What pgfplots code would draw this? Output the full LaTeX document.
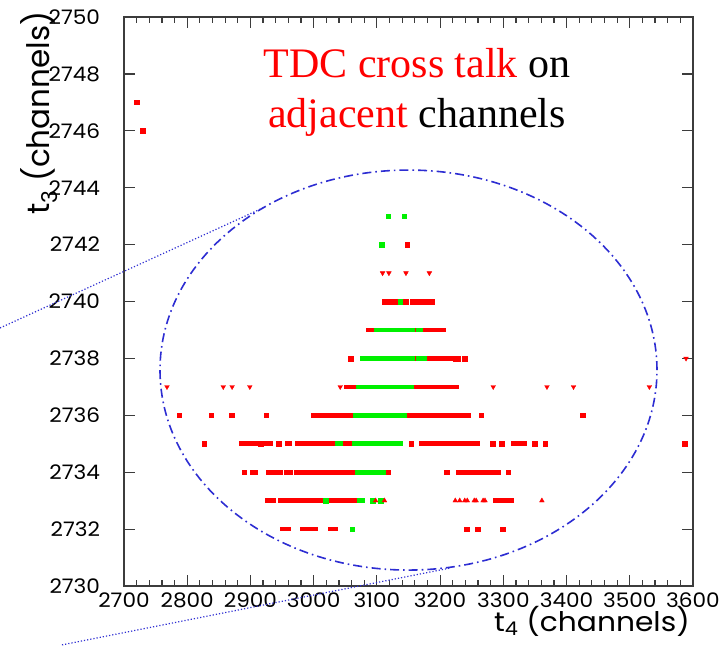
\documentclass[border=0pt]{standalone}
\usepackage{fontspec}
\setmainfont{Liberation Serif}
\newfontfamily\poppins{Poppins}
\usepackage{pgfplots}
\pgfplotsset{compat=1.18}

\definecolor{axisgray}{RGB}{60,60,60}
\definecolor{ellblue}{RGB}{45,45,210}
\definecolor{hitred}{RGB}{255,0,0}
\definecolor{hitgreen}{RGB}{0,240,0}

\begin{document}
\begin{tikzpicture}
\begin{axis}[
  name=ax,
  scale only axis, width=569pt, height=569pt,
  xmin=2700, xmax=3600, ymin=2730, ymax=2750,
  xtick={2700,2800,...,3600}, ytick={2730,2732,...,2750},
  minor x tick num=4, minor y tick num=3,
  tick align=inside,
  major tick length=11pt, minor tick length=6pt,
  axis line style={axisgray, line width=1.5pt},
  tick style={axisgray, line width=1.2pt},
  tick label style={font=\poppins\fontsize{20}{20}\selectfont, inner sep=0pt, xscale=1.08},
  /pgf/number format/assume math mode=true,
  /pgf/number format/set thousands separator={},
  scaled ticks=false,
  xticklabel style={anchor=north, yshift=-7pt},
  yticklabel style={anchor=east, xshift=-22pt},
  clip=false,
  unbounded coords=jump,
]
% continuous runs of hits (red: t3 channel)
\addplot[hitred, line width=4.6pt, line cap=rect, no marks] coordinates {
 (3086,2739) (3092,2739) (nan,nan)
 (3156,2739) (3165,2739) (nan,nan)
 (3170,2739) (3205,2739) (nan,nan)
 (3157,2738) (3165,2738) (nan,nan)
 (3176,2738) (3220,2738) (nan,nan)
 (3052,2737) (3061,2737) (nan,nan)
 (3064,2737) (3070,2737) (nan,nan)
 (3155,2737) (3226,2737) (nan,nan)
 (3000,2736) (3008,2736) (nan,nan)
 (3012,2736) (3024,2736) (nan,nan)
 (3027,2736) (3066,2736) (nan,nan)
 (3144,2736) (3245,2736) (nan,nan)
 (2885,2735) (2891,2735) (nan,nan)
 (2894,2735) (2900,2735) (nan,nan)
 (2903,2735) (2911,2735) (nan,nan)
 (2924,2735) (2932,2735) (nan,nan)
 (2958,2735) (2962,2735) (nan,nan)
 (2974,2735) (3037,2735) (nan,nan)
 (3042,2735) (3064,2735) (nan,nan)
 (3171,2735) (3176,2735) (nan,nan)
 (3181,2735) (3192,2735) (nan,nan)
 (3199,2735) (3260,2735) (nan,nan)
 (3315,2735) (3334,2735) (nan,nan)
 (2903,2734) (2908,2734) (nan,nan)
 (2929,2734) (2937,2734) (nan,nan)
 (2942,2734) (2948,2734) (nan,nan)
 (2956,2734) (2963,2734) (nan,nan)
 (2972,2734) (3069,2734) (nan,nan)
 (3229,2734) (3282,2734) (nan,nan)
 (2927,2733) (2937,2733) (nan,nan)
 (2947,2733) (3016,2733) (nan,nan)
 (3023,2733) (3069,2733) (nan,nan)
 (3287,2733) (3295,2733) (nan,nan)
 (3300,2733) (3313,2733) (nan,nan)
 (2950,2732) (2961,2732) (nan,nan)
 (2982,2732) (2993,2732) (nan,nan)
 (2996,2732) (3003,2732) (nan,nan)
 (3027,2732) (3035,2732)
};
% continuous runs of hits (green: t4 channel)
\addplot[hitgreen, line width=4.6pt, line cap=rect, no marks] coordinates {
 (3099,2739) (3156,2739) (nan,nan)
 (3165,2739) (3170,2739) (nan,nan)
 (3077,2738) (3157,2738) (nan,nan)
 (3165,2738) (3176,2738) (nan,nan)
 (3070,2737) (3155,2737) (nan,nan)
 (3066,2736) (3144,2736) (nan,nan)
 (3037,2735) (3042,2735) (nan,nan)
 (3064,2735) (3138,2735) (nan,nan)
 (3069,2734) (3116,2734) (nan,nan)
 (3072,2733) (3077,2733)
};
% isolated hits
\addplot[only marks, mark=square*, hitgreen, mark size=2.3pt] coordinates {
 (3118,2743) (3143,2743) (3108,2742)
 (3125,2740) (3134,2740) (3138,2740) (3142,2740)
 (3019,2733) (3093,2733) (3106,2733) (3061,2732)
};
\addplot[only marks, mark=square*, hitred, mark size=2.3pt] coordinates {
 (2720,2747) (2730,2746) (3148,2742)
 (3112,2740) (3122,2740) (3129,2740) (3146,2740) (3157,2740) (3160,2740)
 (3165,2740) (3168,2740) (3173,2740) (3176,2740) (3181,2740) (3187,2740)
 (3059,2738) (3224,2738) (3228,2738) (3239,2738)
 (2787,2736) (2838,2736) (2870,2736) (2925,2736) (3265,2736) (3426,2736)
 (2827,2735) (2916,2735) (2945,2735) (3154,2735) (3283,2735) (3297,2735)
 (3350,2735) (3366,2735) (3587,2735)
 (2890,2734) (3118,2734) (3210,2734) (3287,2734) (3292,2734) (3308,2734)
 (3242,2732) (3259,2732) (3299,2732)
};
\addplot[only marks, mark=triangle*, hitred, mark size=2.7pt, mark options={rotate=180}] coordinates {
 (3109,2741) (3119,2741) (3146,2741) (3183,2741)
 (3589,2738)
 (2768,2737) (2857,2737) (2871,2737) (2899,2737) (3042,2737)
 (3284,2737) (3369,2737) (3411,2737) (3531,2737)
};
\addplot[only marks, mark=triangle*, hitred, mark size=2.7pt] coordinates {
 (3098,2733) (3112,2733)
 (3224,2733) (3231,2733) (3239,2733) (3243,2733) (3254,2733) (3257,2733)
 (3268,2733) (3271,2733) (3361,2733)
};
% selection ellipse and its zoom guides
\draw[ellblue, line width=1.6pt, dash pattern=on 9pt off 4pt on 1.6pt off 4pt]
  (axis cs:3150,2737.59) ellipse [x radius=248.5pt, y radius=200pt];
\draw[ellblue, line width=1.2pt, dash pattern=on 1.2pt off 2pt]
  (axis cs:2503.9,2739.07) -- (axis cs:2919.9,2743.29);
\draw[ellblue, line width=1.2pt, dash pattern=on 1.2pt off 2pt]
  (axis cs:2601.9,2727.93) -- (axis cs:3215.6,2730.63);
\end{axis}
\begin{scope}[shift={(ax.south west)}]
  \node[anchor=base, font=\fontsize{42}{50}\selectfont, inner sep=0pt] at (293pt,508pt)
    {\textcolor{red}{TDC cross talk} on};
  \node[anchor=base, font=\fontsize{42}{50}\selectfont, inner sep=0pt] at (293pt,458pt)
    {\textcolor{red}{adjacent} channels};
  \node[anchor=base east, xscale=1.1, inner sep=0pt, font=\poppins\fontsize{27}{27}\selectfont]
    at (566pt,-45pt) {t\textsubscript{4} (channels)};
  \node[anchor=base west, rotate=90, inner sep=0pt, font=\poppins\fontsize{31}{31}\selectfont]
    at (-74pt,371pt) {t\textsubscript{3} (channels)};
  \pgfresetboundingbox
  \path[use as bounding box] (-124pt,-60pt) rectangle (599pt,586pt);
\end{scope}
\end{tikzpicture}
\end{document}
